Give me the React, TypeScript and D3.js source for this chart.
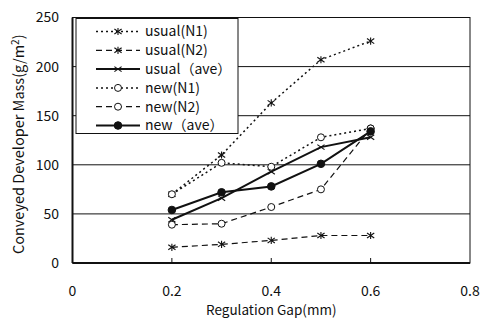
import React from "react";
import * as d3 from "d3";

const gaps = [0.2, 0.3, 0.4, 0.5, 0.6];
const usualN1 = [70, 110, 163, 207, 226];
const usualN2 = [16, 19, 23, 28, 28];
const usualAve = [44, 66, 93, 118, 128];
const newN1 = [70, 102, 98, 128, 137];
const newN2 = [39, 40, 57, 75, 137];
const newAve = [54, 72, 78, 101, 134];
const xTicks = [0, 0.2, 0.4, 0.6, 0.8];
const yTicks = [0, 50, 100, 150, 200, 250];

type S = { name: string; values: number[]; dash: string; width: number; marker: "ast" | "x" | "open" | "filled" };
const series: S[] = [
  { name: "usual(N1)", values: usualN1, dash: "2,3", width: 1.5, marker: "ast" },
  { name: "usual(N2)", values: usualN2, dash: "6,4", width: 1.2, marker: "ast" },
  { name: "usual（ave）", values: usualAve, dash: "", width: 2, marker: "x" },
  { name: "new(N1)", values: newN1, dash: "2,3", width: 1.5, marker: "open" },
  { name: "new(N2)", values: newN2, dash: "6,4", width: 1.2, marker: "open" },
  { name: "new（ave）", values: newAve, dash: "", width: 2, marker: "filled" },
];

const W = 481, H = 320;
const L = 72.5, R = 470, T = 17.5, B = 263;
const x = d3.scaleLinear().domain([0, 0.8]).range([L, R]);
const y = d3.scaleLinear().domain([0, 250]).range([B, T]);
const font = "'Noto Sans CJK JP', 'Noto Sans', sans-serif";

function Marker({ kind, cx, cy }: { kind: S["marker"]; cx: number; cy: number }) {
  const r = 3.6;
  if (kind === "ast")
    return (
      <g stroke="#111" strokeWidth={1.1}>
        <line x1={cx - r} y1={cy - r * 0.7} x2={cx + r} y2={cy + r * 0.7} />
        <line x1={cx - r} y1={cy + r * 0.7} x2={cx + r} y2={cy - r * 0.7} />
        <line x1={cx} y1={cy - r} x2={cx} y2={cy + r} />
      </g>
    );
  if (kind === "x")
    return (
      <g stroke="#111" strokeWidth={1.1}>
        <line x1={cx - r} y1={cy - r * 0.7} x2={cx + r} y2={cy + r * 0.7} />
        <line x1={cx - r} y1={cy + r * 0.7} x2={cx + r} y2={cy - r * 0.7} />
      </g>
    );
  if (kind === "open") return <circle cx={cx} cy={cy} r={3.5} fill="#fff" stroke="#111" strokeWidth={1} />;
  return <circle cx={cx} cy={cy} r={3.8} fill="#111" stroke="#111" strokeWidth={1} />;
}

export default function App() {
  const line = d3
    .line<number>()
    .x((_, i) => x(gaps[i]))
    .y((d) => y(d));
  const lx = 76, ly = 18.5, lw = 162, lh = 115;
  return (
    <svg width={W} height={H} style={{ position: "absolute", left: 0, top: 0 }} fontFamily={font}>
      <rect width={W} height={H} fill="#fff" />
      {yTicks.filter((t) => t > 0 && t < 250).map((t) => (
        <line key={t} x1={L} x2={R} y1={y(t)} y2={y(t)} stroke="#111" strokeWidth={1} />
      ))}
      <rect x={L} y={T} width={R - L} height={B - T} fill="none" stroke="#111" strokeWidth={1} />
      <line x1={L} x2={L} y1={T} y2={B} stroke="#111" strokeWidth={2} />
      <line x1={L} x2={R} y1={B} y2={B} stroke="#111" strokeWidth={2} />
      {xTicks.slice(1, -1).map((t) => (
        <line key={t} x1={x(t)} x2={x(t)} y1={B} y2={B - 5} stroke="#111" strokeWidth={1} />
      ))}
      {yTicks.map((t) => (
        <text key={t} x={59} y={y(t)} dy="0.35em" textAnchor="end" fontSize={14} fill="#111">
          {t}
        </text>
      ))}
      {xTicks.map((t) => (
        <text key={t} x={x(t)} y={291} dy="0.35em" textAnchor="middle" fontSize={14} fill="#111">
          {t === 0 ? "0" : t.toFixed(1)}
        </text>
      ))}
      <text x={x(0.4)} y={310} dy="0.35em" textAnchor="middle" fontSize={13.5} fill="#111">
        Regulation Gap(mm)
      </text>
      <text transform={`translate(19,${(T + B) / 2 + 4}) rotate(-90)`} textAnchor="middle" dy="0.35em" fontSize={14.5} fill="#111">
        Conveyed Developer Mass(g/m<tspan dy="-5" fontSize={10}>2</tspan><tspan dy="5">)</tspan>
      </text>
      {series.map((s) => (
        <g key={s.name}>
          <path d={line(s.values) || ""} fill="none" stroke="#111" strokeWidth={s.width} strokeDasharray={s.dash} />
          {s.values.map((v, i) => (
            <Marker key={i} kind={s.marker} cx={x(gaps[i])} cy={y(v)} />
          ))}
        </g>
      ))}
      <rect x={lx} y={ly} width={lw} height={lh} fill="#fff" stroke="#111" strokeWidth={1} />
      {series.map((s, i) => {
        const cy = ly + 13 + i * 18.8;
        return (
          <g key={s.name}>
            <line x1={96} x2={140} y1={cy} y2={cy} stroke="#111" strokeWidth={s.width} strokeDasharray={s.dash} />
            <Marker kind={s.marker} cx={118} cy={cy} />
            <text x={145} y={cy} dy="0.35em" fontSize={14} fill="#111">
              {s.name}
            </text>
          </g>
        );
      })}
    </svg>
  );
}
